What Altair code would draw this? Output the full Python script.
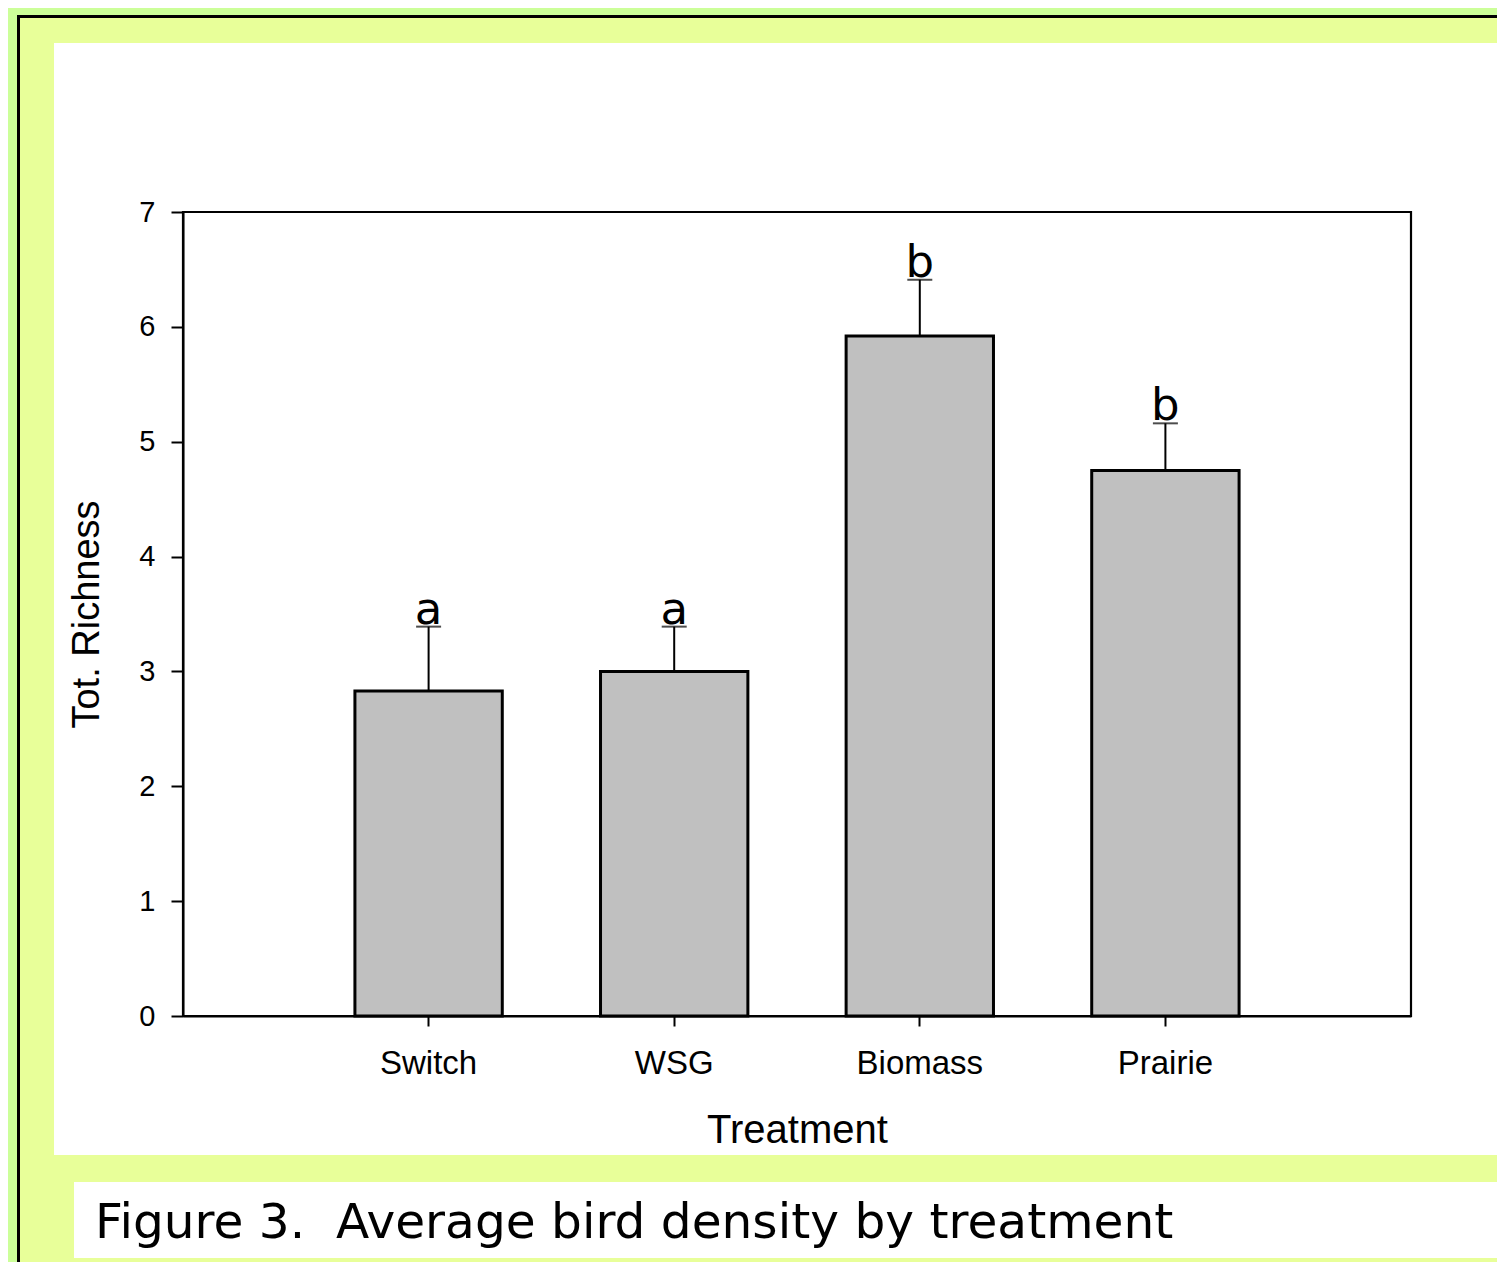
import altair as alt
import pandas as pd

categories = ["Switch", "WSG", "Biomass", "Prairie"]
means = [2.83, 3.00, 5.92, 4.75]
uppers = [3.39, 3.39, 6.41, 5.16]
letters = ["a", "a", "b", "b"]
y_ticks = [0, 1, 2, 3, 4, 5, 6, 7]
caption = "Figure 3.\u00a0 Average bird density by treatment"

df = pd.DataFrame({"Treatment": categories, "mean": means, "upper": uppers, "letter": letters})

W, H = 1228, 804
one = alt.Data(values=[{"k": 0}])

x_enc = alt.X(
    "Treatment:N",
    sort=categories,
    scale=alt.Scale(paddingInner=0.4, paddingOuter=0.7),
    axis=alt.Axis(
        title="Treatment", labelAngle=0, labelFontSize=33, labelFont="Liberation Sans",
        labelPadding=21, tickSize=10, titleFontSize=40, titleFont="Liberation Sans",
        titleBaseline="alphabetic", titleY=126, titleX=W / 2, titleAlign="center",
        zindex=2,
    ),
)
y_enc = alt.Y(
    "mean:Q",
    scale=alt.Scale(domain=[0, 7], nice=False),
    axis=alt.Axis(
        title="Tot. Richness", values=y_ticks, format="d", labelFontSize=29, labelFont="Liberation Sans",
        labelPadding=16, tickSize=12, titleFontSize=38, titleFont="Liberation Sans",
        titleBaseline="alphabetic", titleX=-85, titleY=H / 2, titleAlign="center", titleAngle=-90,
        zindex=2,
    ),
)

bg_outer = alt.Chart(one).mark_rect(fill="#e8ff99", stroke="black", strokeWidth=3).encode(
    x=alt.value(-164.5), x2=alt.value(1360), y=alt.value(-195.5), y2=alt.value(1100)
)
bg_white = alt.Chart(one).mark_rect(fill="white").encode(
    x=alt.value(-129), x2=alt.value(1360), y=alt.value(-169), y2=alt.value(943)
)
bg_caption = alt.Chart(one).mark_rect(fill="white").encode(
    x=alt.value(-109), x2=alt.value(1360), y=alt.value(970), y2=alt.value(1046)
)
frame = alt.Chart(one).mark_rect(fill="white", fillOpacity=0, stroke="black", strokeWidth=2.2).encode(
    x=alt.value(0), x2=alt.value(W), y=alt.value(0), y2=alt.value(H)
)

base = alt.Chart(df)
bars = base.mark_bar(fill="#c0c0c0", stroke="black", strokeWidth=3).encode(x=x_enc, y=y_enc)
err = base.mark_rule(color="black", strokeWidth=2).encode(
    x=alt.X("Treatment:N", sort=categories), y="mean:Q", y2="upper:Q"
)
caps = base.mark_tick(color="black", size=25, thickness=2).encode(
    x=alt.X("Treatment:N", sort=categories), y="upper:Q"
)
labels = base.mark_text(font="DejaVu Sans", fontSize=45, baseline="alphabetic", dy=-3, color="black").encode(
    x=alt.X("Treatment:N", sort=categories), y="upper:Q", text="letter:N"
)
cap_text = alt.Chart(one).mark_text(
    font="DejaVu Sans", fontSize=48.6, align="left", baseline="alphabetic", color="black"
).encode(x=alt.value(-88), y=alt.value(1026), text=alt.value(caption))

chart = alt.layer(bg_outer, bg_white, bg_caption, frame, bars, err, caps, labels, cap_text).properties(
    width=W,
    height=H,
    padding={"left": 175, "top": 204, "right": 86, "bottom": 246},
    autosize=alt.AutoSizeParams(type="none"),
    background="#ccff99",
).configure_view(strokeWidth=0).configure_axis(
    domainColor="black", domainWidth=2, tickColor="black", tickWidth=2, grid=False,
    labelColor="black", titleColor="black", titleFontWeight="normal",
)

chart.save("out.html", embed_options={"renderer": "svg", "actions": False})
